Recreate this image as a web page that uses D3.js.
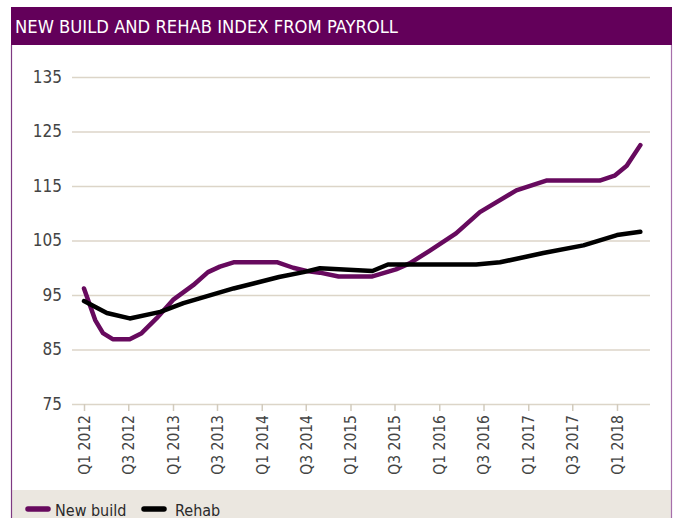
<!DOCTYPE html>
<html>
<head>
<meta charset="utf-8">
<script src="https://cdn.jsdelivr.net/npm/d3@7"></script>
<style>
  body { margin: 0; background: #fff; }
  svg text { font-family: "Liberation Sans Narrow", "DejaVu Sans Condensed", "Roboto", sans-serif; }
  .tick text { fill: #444; }
</style>
</head>
<body>
<svg id="chart" width="675" height="518"></svg>
<script>
// new build index, key points
let nbDates = ["2012-01-01","2012-02-16","2012-03-19","2012-04-28","2012-07-07","2012-08-25",
               "2012-10-25","2013-01-01","2013-03-25","2013-05-25","2013-07-13","2013-09-07",
               "2014-03-07","2014-05-10","2014-07-04","2014-08-28","2014-11-13","2015-04-01",
               "2015-07-07","2015-09-01","2015-11-22","2016-03-10","2016-06-16","2016-11-13",
               "2017-03-16","2017-10-22","2017-12-22","2018-02-10","2018-04-07"];
let nbValues = [96.2, 90.4, 88.0, 86.9, 86.9, 88.0,
                90.7, 94.1, 96.8, 99.2, 100.2, 101.0,
                101.0, 100.0, 99.4, 99.1, 98.4, 98.4,
                99.7, 100.8, 103.1, 106.3, 110.2, 114.2,
                116.0, 116.0, 116.9, 118.7, 122.5];

// rehab index
let rhDates = ["2012-01-01","2012-04-04","2012-07-07","2012-11-10","2013-02-13","2013-09-07",
               "2014-03-13","2014-06-22","2014-08-28","2015-04-01","2015-06-04","2016-06-01",
               "2016-09-07","2017-03-04","2017-08-16","2018-01-01","2018-04-07"];
let rhValues = [93.9, 91.7, 90.7, 91.9, 93.5, 96.2,
                98.3, 99.2, 99.9, 99.4, 100.6, 100.6,
                101.0, 102.7, 104.1, 106.0, 106.6];

let tickDates = ["2012-01-01","2012-07-01","2013-01-01","2013-07-01","2014-01-01","2014-07-01",
                 "2015-01-01","2015-07-01","2016-01-01","2016-07-01","2017-01-01","2017-07-01",
                 "2018-01-01"];
let tickLabels = ["Q1 2012","Q3 2012","Q1 2013","Q3 2013","Q1 2014","Q3 2014",
                  "Q1 2015","Q3 2015","Q1 2016","Q3 2016","Q1 2017","Q3 2017","Q1 2018"];
let yTicks = [75, 85, 95, 105, 115, 125, 135];

let seriesNames = ["New build", "Rehab"];
let seriesColors = ["#670a5e", "#000000"];

let parse = d3.timeParse("%Y-%m-%d");
let svg = d3.select("svg#chart");

let x = d3.scaleTime()
  .domain([parse("2012-01-01"), parse("2018-01-01")])
  .range([84, 617]);
let y = d3.scaleLinear()
  .domain([75, 135])
  .range([404, 77]);

// frame: title band, side borders, legend band
svg.append("rect").attr("x", 11).attr("y", 7).attr("width", 661).attr("height", 38)
  .attr("fill", "#63005a");
svg.append("rect").attr("x", 11).attr("y", 490).attr("width", 661).attr("height", 28)
  .attr("fill", "#ebe7e0");
svg.append("line").attr("x1", 11.5).attr("x2", 11.5).attr("y1", 45).attr("y2", 518)
  .attr("stroke", "#7f3a82").attr("stroke-width", 1.2);
svg.append("line").attr("x1", 671.5).attr("x2", 671.5).attr("y1", 45).attr("y2", 518)
  .attr("stroke", "#a76fab").attr("stroke-width", 1.2);

let title = svg.append("text")
  .attr("x", 15).attr("y", 33)
  .attr("fill", "#fff")
  .style("font-size", "17px")
  .text("NEW BUILD AND REHAB INDEX FROM PAYROLL");
title.attr("textLength", 383).attr("lengthAdjust", "spacingAndGlyphs");

// y grid + labels
let yAxis = svg.append("g")
  .attr("transform", "translate(72,0)")
  .call(d3.axisLeft(y).tickValues(yTicks).tickSize(-578).tickPadding(10).tickFormat(d3.format("d")));
yAxis.select(".domain").remove();
yAxis.selectAll(".tick line").attr("stroke", "#dcd5c8").attr("stroke-width", 1.5);
yAxis.selectAll(".tick text").style("font-size", "17px");

// x ticks, rotated labels
let xAxis = svg.append("g")
  .attr("transform", "translate(0,404)")
  .call(d3.axisBottom(x).tickValues(tickDates.map(parse)).tickSize(7)
          .tickFormat(function(d, i) { return tickLabels[i]; }));
xAxis.select(".domain").remove();
xAxis.selectAll(".tick line").attr("stroke", "#d2cbbd").attr("stroke-width", 1.5);
xAxis.selectAll(".tick text")
  .style("font-size", "15.5px")
  .style("text-anchor", "end")
  .attr("dy", "0.35em")
  .attr("x", -11)
  .attr("y", 0)
  .attr("transform", "rotate(-90)");

let line = d3.line()
  .x(function(d) { return x(d.date); })
  .y(function(d) { return y(d.value); });

function toPoints(dates, values) {
  return dates.map(function(d, i) { return {date: parse(d), value: values[i]}; });
}

let series = [toPoints(nbDates, nbValues), toPoints(rhDates, rhValues)];

// rehab drawn last so it sits on top like the reference
svg.append("g").selectAll("path")
  .data(series)
  .enter().append("path")
    .attr("d", line)
    .attr("fill", "none")
    .attr("stroke", function(d, i) { return seriesColors[i]; })
    .attr("stroke-width", 4.5)
    .attr("stroke-linejoin", "round")
    .attr("stroke-linecap", "round");

// legend
let legendX = [28, 144];
let legend = svg.append("g").selectAll("g")
  .data(seriesNames)
  .enter().append("g")
    .attr("transform", function(d, i) { return "translate(" + legendX[i] + ",509)"; });
legend.append("line")
  .attr("x1", 0).attr("x2", 20)
  .attr("stroke", function(d, i) { return seriesColors[i]; })
  .attr("stroke-width", 5.5)
  .attr("stroke-linecap", "round");
legend.append("text")
  .attr("x", function(d, i) { return i == 0 ? 27 : 31; })
  .attr("y", 6.5)
  .attr("fill", "#2a2a2a")
  .style("font-size", "16px")
  .text(function(d) { return d; });
</script>
</body>
</html>
